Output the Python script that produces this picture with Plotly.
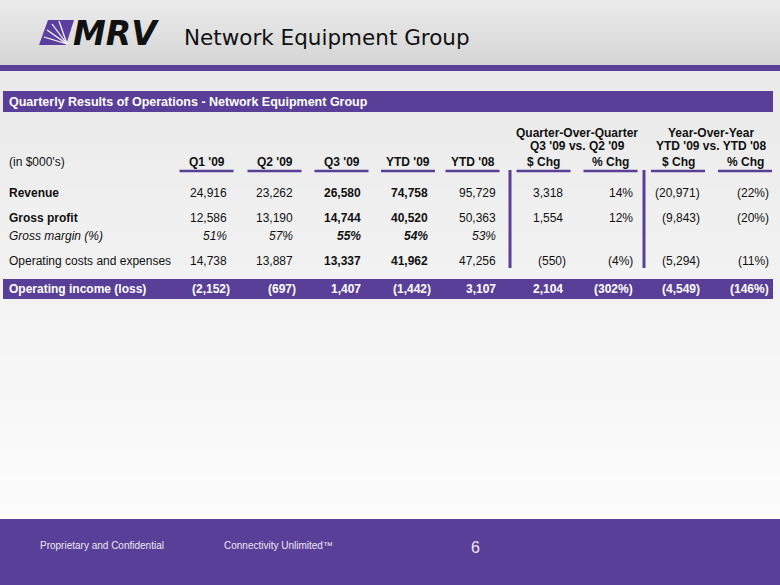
import plotly.graph_objects as go

# ---------------- data ----------------
title = "Network Equipment Group"
section_title = "Quarterly Results of Operations - Network Equipment Group"
unit_label = "(in $000's)"
columns = ["Q1 '09", "Q2 '09", "Q3 '09", "YTD '09", "YTD '08", "$ Chg", "% Chg", "$ Chg", "% Chg"]
col_kind = ["$", "$", "$", "$", "$", "$", "%", "$", "%"]
group_labels = [("Quarter-Over-Quarter", "Q3 '09 vs. Q2 '09"), ("Year-Over-Year", "YTD '09 vs. YTD '08")]
row_labels = ["Revenue", "Gross profit", "Gross margin (%)", "Operating costs and expenses", "Operating income (loss)"]

revenue = [24916, 23262, 26580, 74758, 95729, 3318, 0.14, -20971, -0.22]
gross_profit = [12586, 13190, 14744, 40520, 50363, 1554, 0.12, -9843, -0.20]
gross_margin = [0.51, 0.57, 0.55, 0.54, 0.53]
operating_costs = [14738, 13887, 13337, 41962, 47256, -550, -0.04, -5294, -0.11]
operating_income = [-2152, -697, 1407, -1442, 3107, 2104, -3.02, -4549, -1.46]

footer_left = "Proprietary and Confidential"
footer_mid = "Connectivity Unlimited™"
page_no = "6"

# ---------------- style / layout ----------------
W, H = 780, 585
PURPLE = "#5a3f98"
FONT = "Liberation Sans, Arial, sans-serif"
col_right = [232, 298, 366, 433, 501, 568, 635, 702, 771]
col_center = [206.5, 274.5, 341.5, 408, 472.5, 543.5, 610.5, 678, 745]
row_y = [193, 218, 236, 261, 289]
bold_cols = {2, 3}


def fmt(v, kind, pad=True):
    if kind == "%":
        s = f"{abs(round(v * 100))}%"
        return f"({s})" if v < 0 else s
    s = f"{abs(v):,}"
    return f"({s})" if v < 0 else (s + "\u00a0" if pad else s)


fig = go.Figure()
fig.add_trace(go.Scatter(x=[0, W], y=[0, H], mode="markers", marker=dict(opacity=0), hoverinfo="skip", showlegend=False))

shapes = []
annotations = []


def lerp(c1, c2, t):
    return "#%02x%02x%02x" % tuple(int(round(a + (b - a) * t)) for a, b in zip(c1, c2))


# header gradient
n = 16
for i in range(n):
    y0 = 65 * i / n
    y1 = 65 * (i + 1) / n + 0.5
    shapes.append(dict(type="rect", x0=0, x1=W, y0=y0, y1=y1, line=dict(width=0),
                       fillcolor=lerp((234, 234, 234), (214, 214, 214), i / (n - 1)), layer="below"))
# body gradient
n = 30
for i in range(n):
    y0 = 71 + (519 - 71) * i / n
    y1 = 71 + (519 - 71) * (i + 1) / n + 0.5
    shapes.append(dict(type="rect", x0=0, x1=W, y0=y0, y1=y1, line=dict(width=0),
                       fillcolor=lerp((234, 234, 234), (252, 252, 252), i / (n - 1)), layer="below"))
# header purple rule
shapes.append(dict(type="rect", x0=0, x1=W, y0=65, y1=71, line=dict(width=0), fillcolor=PURPLE))
# footer
shapes.append(dict(type="rect", x0=0, x1=W, y0=519, y1=H, line=dict(width=0), fillcolor=PURPLE))
# logo icon
shapes.append(dict(type="path", path="M 48 20 L 74 20 L 66 45 L 39 45 Z", line=dict(width=0), fillcolor="#5b3fa0"))
for (xa, ya) in [(44, 37), (47, 30), (52, 24), (59, 21)]:
    shapes.append(dict(type="line", x0=67, y0=44, x1=xa, y1=ya, line=dict(color="white", width=1.2)))

annotations.append(dict(x=71, y=33, text="<b><i>MRV</i></b>", showarrow=False, xanchor="left", yanchor="middle",
                        font=dict(family="DejaVu Sans", size=33, color="#111111")))
annotations.append(dict(x=182, y=37, text=title, showarrow=False, xanchor="left", yanchor="middle",
                        font=dict(family="DejaVu Sans", size=21.5, color="#111111")))

# section bar
shapes.append(dict(type="rect", x0=3, x1=773, y0=91, y1=112, line=dict(width=0), fillcolor=PURPLE))
annotations.append(dict(x=7, y=102, text=f"<b>{section_title}</b>", showarrow=False, xanchor="left", yanchor="middle",
                        font=dict(family=FONT, size=12.5, color="white")))

# group headers
for (l1, l2), cx in zip(group_labels, [577, 711]):
    annotations.append(dict(x=cx, y=133, text=f"<b>{l1}</b>", showarrow=False, xanchor="center", yanchor="middle",
                            font=dict(family=FONT, size=12, color="#111111")))
    annotations.append(dict(x=cx, y=146, text=f"<b>{l2}</b>", showarrow=False, xanchor="center", yanchor="middle",
                            font=dict(family=FONT, size=12, color="#111111")))

# column headers
annotations.append(dict(x=7, y=162, text=unit_label, showarrow=False, xanchor="left", yanchor="middle",
                        font=dict(family=FONT, size=12, color="#111111")))
for c, cx in zip(columns, col_center):
    annotations.append(dict(x=cx, y=162, text=f"<b>{c}</b>", showarrow=False, xanchor="center", yanchor="middle",
                            font=dict(family=FONT, size=12, color="#111111")))
    shapes.append(dict(type="line", x0=cx - 27, x1=cx + 27, y0=171, y1=171, line=dict(color=PURPLE, width=2.5)))

# vertical dividers
for vx in [510, 644]:
    shapes.append(dict(type="line", x0=vx, x1=vx, y0=170, y1=268, line=dict(color=PURPLE, width=3)))

# operating income bar
shapes.append(dict(type="rect", x0=3, x1=773, y0=279, y1=299, line=dict(width=0), fillcolor=PURPLE))

rows = [revenue, gross_profit, gross_margin, operating_costs, operating_income]
label_style = ["b", "b", "i", "", "b"]
for r, (label, vals) in enumerate(zip(row_labels, rows)):
    y = row_y[r]
    color = "white" if r == 4 else "#111111"
    st = label_style[r]
    txt = f"<{st}>{label}</{st}>" if st else label
    annotations.append(dict(x=7, y=y, text=txt, showarrow=False, xanchor="left", yanchor="middle",
                            font=dict(family=FONT, size=12, color=color)))
    for c, v in enumerate(vals):
        kind = "%" if r == 2 else col_kind[c]
        s = fmt(v, kind)
        if r == 2:
            s = s + "\u00a0"
        bold = (r == 4) or (c in bold_cols)
        if bold:
            s = f"<b>{s}</b>"
        if r == 2:
            s = f"<i>{s}</i>"
        annotations.append(dict(x=col_right[c], y=y, text=s, showarrow=False, xanchor="right", yanchor="middle",
                                font=dict(family=FONT, size=12, color=color)))

# footer text
FOOT_FONT = "Liberation Sans Narrow, Arial Narrow, Liberation Sans, sans-serif"
annotations.append(dict(x=38, y=545, text=footer_left, showarrow=False, xanchor="left", yanchor="middle",
                        font=dict(family=FOOT_FONT, size=10, color="#ece8f4")))
annotations.append(dict(x=222, y=545, text=footer_mid, showarrow=False, xanchor="left", yanchor="middle",
                        font=dict(family=FOOT_FONT, size=10, color="#ece8f4")))
annotations.append(dict(x=475, y=547, text=page_no, showarrow=False, xanchor="center", yanchor="middle",
                        font=dict(family=FOOT_FONT, size=16, color="#ece8f4")))

fig.update_layout(
    width=W, height=H,
    margin=dict(l=0, r=0, t=0, b=0),
    paper_bgcolor="#eeeeee", plot_bgcolor="rgba(0,0,0,0)",
    xaxis=dict(range=[0, W], visible=False, fixedrange=True),
    yaxis=dict(range=[H, 0], visible=False, fixedrange=True),
    shapes=shapes, annotations=annotations, showlegend=False,
)

fig.write_html("out.html", config=dict(displayModeBar=False),
               post_script="document.body.style.margin='0';document.body.style.overflow='hidden';")
